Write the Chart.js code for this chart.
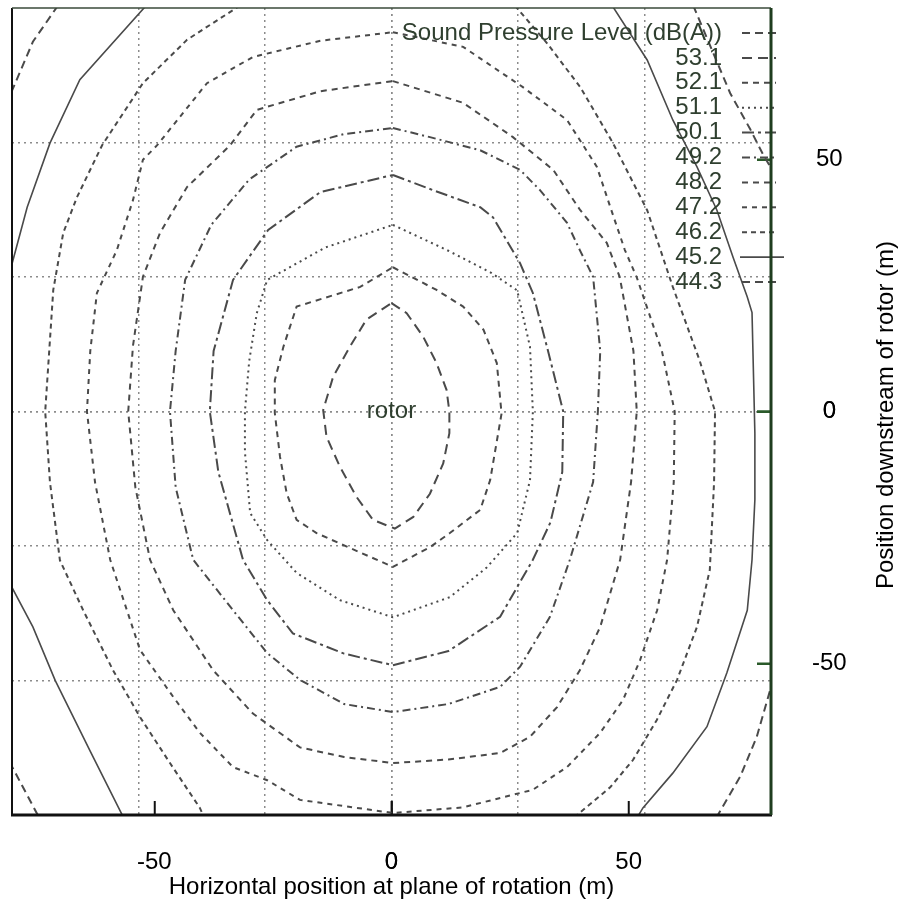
<!DOCTYPE html>
<html>
<head>
<meta charset="utf-8">
<script src="https://cdn.jsdelivr.net/npm/chart.js@4.4.0/dist/chart.umd.min.js"></script>
<style>
  html, body { margin: 0; padding: 0; background: #fff; }
  #wrap { width: 904px; height: 907px; }
</style>
</head>
<body>
<div id="wrap"><canvas id="chart"></canvas></div>
<script>
// contour levels (dB(A)), innermost first
const levels = ['53.1', '52.1', '51.1', '50.1', '49.2', '48.2', '47.2', '46.2', '45.2', '44.3'];
const levelDash = [[10, 6], [6, 5], [2, 4], [12, 4, 3, 4], [8, 4, 2, 4], [6, 5], [5, 5], [5, 4], [], [8, 5]];

// axis ticks and grid positions (m)
const xTickValues = [-50, 0, 50];
const yTickValues = [-50, 0, 50];
const gridValues = [-53.33, -26.67, 0, 26.67, 53.33];

// contour traces, [x, y] in m
const c531 = [[0,21.5],[3.2,19.5],[6.7,14.8],[9.5,9.6],[11.6,4.3],[12.2,0],[12.2,-4.3],[10.9,-10.3],[8.1,-16.3],[4.6,-20.9],[0.7,-23.2],[-3.9,-21.5],[-7.4,-16.9],[-10.9,-10.9],[-13.7,-5],[-14.4,0.3],[-12.3,6.9],[-8.8,12.8],[-5.3,18.2],[0,21.5]];
const c521 = [[0.3,28.6],[9.5,24.1],[15.1,20.8],[19.4,16.2],[22.2,9.6],[23.2,-0.4],[20.8,-13.6],[18.7,-19.5],[12.3,-24.1],[8.1,-26.9],[0.3,-30.8],[-9.4,-26.8],[-15.8,-24.1],[-20,-21.5],[-22.1,-16.2],[-23.5,-9],[-24.6,-0.3],[-24.6,6.2],[-22.8,12.8],[-20,20.8],[-6.6,24.7],[0.3,28.6]];
const c511 = [[0.3,37],[11.7,32],[21,27.5],[26.5,24],[29.2,12.8],[29.8,0],[29.2,-13.6],[26.5,-24.1],[20,-31],[12.3,-36.8],[0.3,-40.8],[-10.9,-37.4],[-20,-32],[-26.2,-25.5],[-29.8,-20.1],[-30.9,-8],[-30.9,0],[-30,10],[-28.4,19.5],[-26.2,26.1],[-14,32.5],[0.3,37]];
const c501 = [[0.3,46.9],[8.7,43.9],[18.7,40.5],[21.4,38.5],[27.1,29.4],[29.8,23.5],[33,12],[36.2,0],[36,-12],[33.5,-22],[29.8,-29.4],[22.9,-40.7],[12,-47.5],[0.3,-50.3],[-10,-48],[-20.8,-44],[-26.2,-37.4],[-31.3,-29.4],[-36.5,-12],[-38.3,0],[-37.5,12],[-33.4,26.1],[-26,36],[-15,43.5],[0.3,46.9]];
const c492 = [[0.3,56.2],[8.1,54.4],[18.7,51.8],[27.1,47.9],[31.3,43.9],[37,37.4],[39.7,32],[42.5,26.7],[44,12],[43.5,0],[42.5,-14],[37.6,-29.4],[33.4,-40.7],[27.1,-50.6],[22.9,-54.6],[12,-58],[0.3,-59.6],[-10,-58],[-19.3,-53.2],[-26.2,-47.9],[-33.4,-39.4],[-41.8,-29.4],[-45.5,-15],[-46.7,0],[-45.5,12],[-43.5,26.1],[-38,37],[-30,46],[-20,52.5],[-10,55],[0.3,56.2]];
const c482 = [[0.3,65.5],[15.1,61.2],[25.6,54.4],[34.1,47.9],[39.8,39.9],[45.4,33.4],[48.1,26.7],[51,12],[51.7,0],[50.5,-14],[48.2,-29.4],[44,-42.7],[39.7,-51.3],[34.9,-58.6],[29.2,-64.5],[22.9,-67.7],[12,-69],[0.3,-69.7],[-10,-68.5],[-19.3,-66.6],[-29.2,-59.9],[-37.6,-51.3],[-46,-39.4],[-50.9,-29.4],[-54,-15],[-55.5,0],[-54.5,13],[-52.4,26.7],[-48.8,35.4],[-43.1,44.5],[-34,52.8],[-28.4,59.8],[-15,63.5],[0.3,65.5]];
const c472 = [[0.3,75.2],[15.1,72.3],[27.7,64.3],[37,57.8],[43.3,48.5],[46.1,40.6],[49.2,32],[51.7,26.6],[57,12],[59.7,0],[59.5,-14],[58.1,-29.4],[56,-39.4],[52.4,-49.3],[48.8,-57.2],[44,-63.7],[37,-70.5],[29.8,-75],[15,-78.5],[0.3,-79.6],[-19.3,-77],[-26.2,-73.1],[-33.4,-70.5],[-40.4,-63.7],[-46,-56.6],[-53,-47.3],[-59.3,-29.4],[-62.5,-14],[-64.2,0],[-63.5,12],[-62.1,23.5],[-57.9,32],[-54.5,41.9],[-52.4,49.9],[-49.4,52.8],[-38.9,65.1],[-29.2,70.3],[-15,73.5],[0.3,75.2]];
const c462a = [[-31.9,80.5],[-43.1,73.7],[-52.4,65.1],[-61,52.8],[-66.3,42.5],[-69.2,35.4],[-71.3,24.1],[-73,0],[-72,-14],[-69.9,-29.5],[-65,-39.4],[-58.7,-51.3],[-53,-60.6],[-46.7,-69.7],[-40.4,-78.6],[-39.5,-80.5]];
const c462b = [[26,80.5],[32.8,73],[39.8,64.3],[46.7,53.2],[53.9,39.9],[59.3,24.7],[65,10],[68.2,0],[68,-14],[67.1,-31.4],[64.4,-42.7],[60.2,-53.2],[55.9,-61.2],[50.9,-69.1],[46.1,-74.5],[38.5,-80.5]];
const c452a = [[-51.7,80.5],[-65.7,65.8],[-72,53.2],[-76.8,40.5],[-80.5,27.5]];
const c452b = [[-80.5,-34],[-75.6,-42.7],[-70.9,-53.3],[-63.6,-67.2],[-56.5,-80.5]];
const c452c = [[46.5,80.5],[53.9,69.7],[59.3,57.8],[64.4,48.5],[68.6,39.9],[72,30.6],[75,22.7],[76,19.6],[76.6,-4.3],[76.6,-17.5],[76,-29.4],[75,-39.4],[70.7,-51.8],[66.5,-62.5],[59.3,-71.7],[53,-78.6],[51.8,-80.5]];
const c443a = [[-70.3,80.5],[-75.6,73.3],[-80.5,62.5]];
const c443b = [[-80.5,-69.5],[-74.3,-80.5]];
const c443c = [[63.6,80.5],[71.4,63.1],[75.6,56],[78.3,51],[80.5,47.5]];
const c443d = [[80.5,-53],[77,-64.5],[73.5,-72.4],[68.5,-80.5]];

// [level index, trace]
const contourPieces = [
    [0, c531], [1, c521], [2, c511], [3, c501], [4, c492], [5, c482], [6, c472],
    [7, c462a], [7, c462b], [8, c452a], [8, c452b], [8, c452c],
    [9, c443a], [9, c443b], [9, c443c], [9, c443d]
];

const FONT = "'Liberation Sans', Arial, Helvetica, sans-serif";
const LINE = '#4a4a4a';
const LABEL_GREEN = '#2f3f2f';
Chart.defaults.font.family = FONT;

const datasets = contourPieces.map(([lvl, pts]) => ({
    label: levels[lvl],
    data: pts.map(p => ({ x: p[0], y: p[1] })),
    borderColor: LINE,
    borderWidth: lvl === 8 ? 1.6 : 2,
    borderDash: levelDash[lvl],
    pointRadius: 0,
    tension: 0,
    fill: false
}));

function isLabelled(v, list) {
    return list.some(t => Math.abs(t - v) < 0.01);
}

// frame, legend, rotor label and right-hand title
const overlayPlugin = {
    id: 'overlay',
    afterDatasetsDraw(chart) {
        const ctx = chart.ctx;
        const a = chart.chartArea;
        const xs = chart.scales.x, ys = chart.scales.y;
        ctx.save();

        // rotor label
        ctx.font = '24px ' + FONT;
        ctx.fillStyle = LABEL_GREEN;
        ctx.textAlign = 'center';
        ctx.textBaseline = 'middle';
        ctx.fillText('rotor', xs.getPixelForValue(0), ys.getPixelForValue(0));

        // key
        const rows = ['Sound Pressure Level (dB(A))'].concat(levels);
        const dashes = [[8, 5]].concat(levelDash);
        ctx.textAlign = 'right';
        rows.forEach((txt, i) => {
            const y = 33 + i * 24.9;
            ctx.fillStyle = LABEL_GREEN;
            ctx.fillText(txt, 722, y);
            ctx.beginPath();
            ctx.setLineDash(dashes[i]);
            ctx.lineWidth = i === 9 ? 1.6 : 2;
            ctx.strokeStyle = LINE;
            ctx.moveTo(i === 9 ? 740 : 742, y);
            ctx.lineTo(i === 9 ? 784 : 776, y);
            ctx.stroke();
        });
        ctx.setLineDash([]);

        // frame
        ctx.lineWidth = 2;
        ctx.strokeStyle = '#111';
        ctx.beginPath(); ctx.moveTo(a.left, a.top); ctx.lineTo(a.left, a.bottom); ctx.stroke();
        ctx.lineWidth = 1.5;
        ctx.strokeStyle = '#3a4a3a';
        ctx.beginPath(); ctx.moveTo(a.left, a.top); ctx.lineTo(a.right, a.top); ctx.stroke();
        ctx.lineWidth = 3;
        ctx.strokeStyle = '#111';
        ctx.beginPath(); ctx.moveTo(a.left - 1, a.bottom); ctx.lineTo(a.right + 1, a.bottom); ctx.stroke();
        ctx.strokeStyle = '#1f3d1f';
        ctx.beginPath(); ctx.moveTo(a.right, a.top); ctx.lineTo(a.right, a.bottom); ctx.stroke();

        // y title, reading upwards
        ctx.translate(886, 415);
        ctx.rotate(-Math.PI / 2);
        ctx.textAlign = 'center';
        ctx.fillStyle = '#000';
        ctx.fillText('Position downstream of rotor (m)', 0, 0);
        ctx.restore();
    }
};

new Chart(document.getElementById('chart'), {
    type: 'line',
    data: { datasets: datasets },
    options: {
        responsive: true,
        maintainAspectRatio: false,
        animation: false,
        layout: { padding: { left: 12, top: 8, right: 0, bottom: 0 } },
        plugins: {
            legend: { display: false },
            tooltip: { enabled: false }
        },
        scales: {
            x: {
                type: 'linear',
                min: -80,
                max: 80,
                afterBuildTicks: axis => {
                    axis.ticks = gridValues.concat(xTickValues)
                        .sort((p, q) => p - q)
                        .map(v => ({ value: v }));
                },
                afterFit: axis => {
                    axis.height = 92;
                    axis.paddingLeft = 0;
                    axis.paddingRight = 0;
                },
                ticks: {
                    autoSkip: false,
                    maxRotation: 0,
                    padding: 47,
                    color: '#000',
                    font: { size: 24 },
                    callback: v => isLabelled(v, xTickValues) ? String(Math.round(v)) : ''
                },
                grid: {
                    color: c => isLabelled(c.tick.value, gridValues) ? '#8c8c8c' : 'rgba(0,0,0,0)',
                    lineWidth: 1.5,
                    tickLength: -14,
                    tickWidth: 2,
                    tickColor: c => isLabelled(c.tick.value, xTickValues) ? '#111' : 'rgba(0,0,0,0)',
                    tickBorderDash: []
                },
                border: { display: false, dash: [2, 4] },
                title: {
                    display: true,
                    text: 'Horizontal position at plane of rotation (m)',
                    color: '#000',
                    font: { size: 24 },
                    padding: { top: 0, bottom: 5 }
                }
            },
            y: {
                type: 'linear',
                position: 'right',
                min: -80,
                max: 80,
                afterBuildTicks: axis => {
                    axis.ticks = gridValues.concat(yTickValues)
                        .sort((p, q) => p - q)
                        .map(v => ({ value: v }));
                },
                afterFit: axis => {
                    axis.width = 133;
                    axis.paddingTop = 0;
                    axis.paddingBottom = 0;
                },
                ticks: {
                    autoSkip: false,
                    padding: 55,
                    crossAlign: 'center',
                    color: '#000',
                    font: { size: 24 },
                    callback: v => isLabelled(v, yTickValues) ? String(Math.round(v)) : ''
                },
                grid: {
                    color: c => isLabelled(c.tick.value, gridValues) ? '#8c8c8c' : 'rgba(0,0,0,0)',
                    lineWidth: 1.5,
                    tickLength: -14,
                    tickWidth: 2.5,
                    tickColor: c => isLabelled(c.tick.value, yTickValues) ? '#2a5a2a' : 'rgba(0,0,0,0)',
                    tickBorderDash: []
                },
                border: { display: false, dash: [2, 4] }
            }
        }
    },
    plugins: [overlayPlugin]
});
</script>
</body>
</html>
